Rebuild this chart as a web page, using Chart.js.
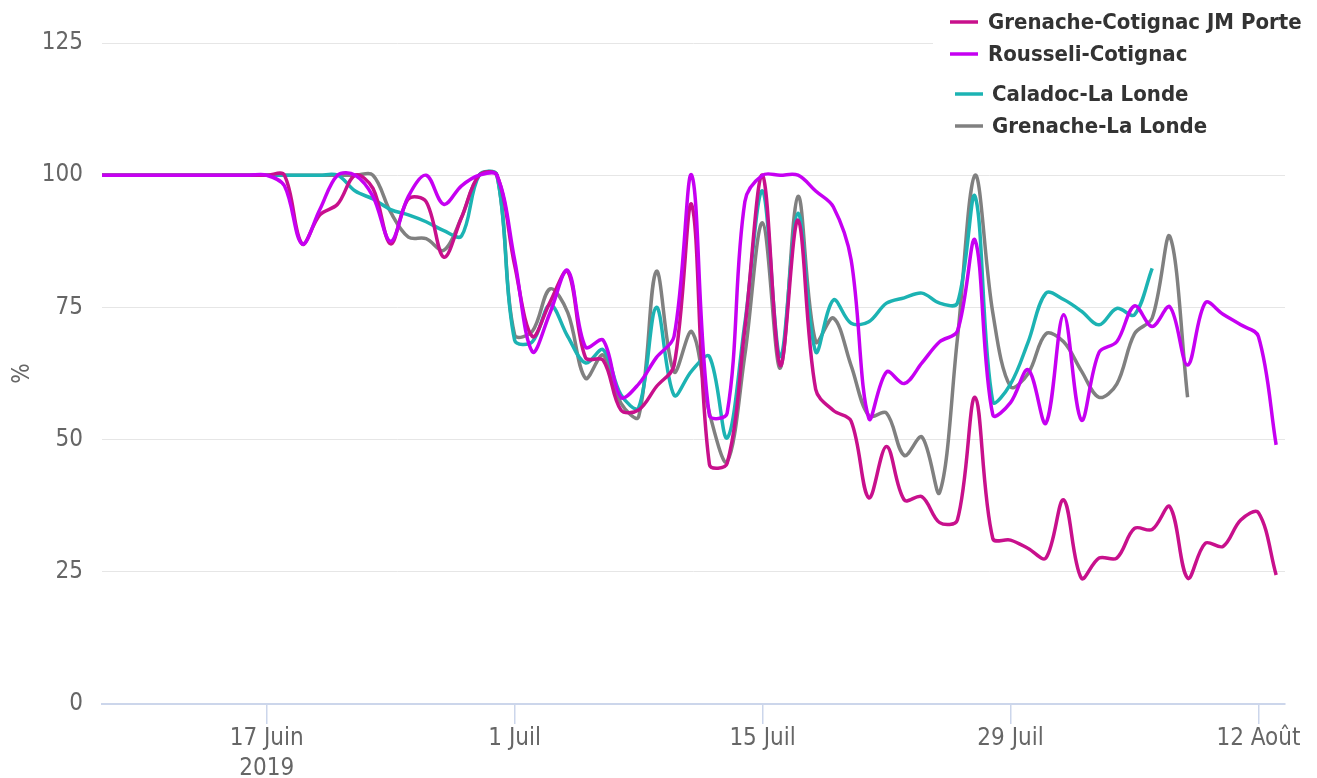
<!DOCTYPE html>
<html lang="fr">
<head>
<meta charset="UTF-8">
<title>Suivi hydrique 2019</title>
<script src="https://cdn.jsdelivr.net/npm/chart.js"></script>
<style>
  html, body { margin: 0; padding: 0; background: #fff; }
  #wrap { width: 1317px; height: 778px; }
</style>
</head>
<body>
<div id="wrap"><canvas id="chart"></canvas></div>
<script>
// jours comptés depuis le 17 juin 2019
const days = [-9.3, -8, -7, -6, -5, -4, -3, -2, -1, 0,
  1, 2, 3, 4, 5, 6, 7, 8, 9, 10,
  11, 12, 13, 14, 15, 16, 17, 18, 19, 20,
  21, 22, 23, 24, 25, 26, 27, 28, 29, 30,
  31, 32, 33, 34, 35, 36, 37, 38, 39, 40,
  41, 42, 43, 44, 45, 46, 47, 48, 49, 50,
  51, 52, 53, 54, 55, 56, 57];

const tickDays = [0, 14, 28, 42, 56];
const tickLabels = [['17 Juin', '2019'], '1 Juil', '15 Juil', '29 Juil', '12 Août'];
const yTicks = [0, 25, 50, 75, 100, 125];

const seriesNames = ['Grenache-Cotignac JM Porte', 'Rousseli-Cotignac', 'Caladoc-La Londe', 'Grenache-La Londe'];
const seriesColors = ['#c8108c', '#c600f2', '#1cb3b3', '#808080'];
// ordre de tracé : le gris dessous, le violet dessus
const drawOrder = [2, 1, 3, 4];

const grenacheCotignac = [100, 100, 100, 100, 100, 100, 100, 100, 100, 100,
  100, 87, 92.5, 94.5, 100, 97.5, 87, 95.5, 95, 84.5,
  92, 100, 100, 83, 69.5, 76, 81.8, 65.5, 65, 55.6,
  55.6, 60, 64, 94.4, 45.3, 45.5, 71, 100, 64, 91.5,
  59.5, 55.5, 53.5, 39, 48.7, 38.6, 39.2, 34.3, 34.8, 58,
  31.3, 31, 29.4, 27.6, 38.6, 23.8, 27.6, 27.6, 33.2, 33,
  37.3, 23.8, 30.4, 29.8, 34.8, 36.2, 24.4];

const rousseliCotignac = [100, 100, 100, 100, 100, 100, 100, 100, 100, 100,
  98, 87, 93.5, 100, 100, 96, 87.5, 96, 100, 94.5,
  98, 100, 100, 84, 66.6, 74, 82, 67.5, 68.8, 58,
  60.5, 65.5, 69.5, 100, 54.6, 55, 95, 100, 100, 100,
  97, 94, 84, 54, 62.8, 60.6, 64.5, 68.5, 70.5, 87.7,
  54.7, 57, 63.2, 53.1, 73.6, 53.7, 66.5, 68.5, 75.3, 71.4,
  75.1, 64.1, 75.9, 73.7, 71.7, 69.5, 49];

const caladocLaLonde = [100, 100, 100, 100, 100, 100, 100, 100, 100, 100,
  100, 100, 100, 100, 97, 95.5, 93.5, 92.5, 91.2, 89.5,
  88.5, 100, 100, 68.8, 68.5, 75.5, 69.5, 64.5, 67, 58.5,
  56, 75, 58.4, 63, 65.7, 50.3, 72, 97, 65.7, 92.8,
  66.6, 76.4, 72, 72.3, 75.8, 76.8, 77.7, 75.8, 75.8, 96,
  57.2, 60.5, 68.5, 77.7, 76.5, 74.3, 71.7, 74.8, 73.6, 82.4];

const grenacheLaLonde = [100, 100, 100, 100, 100, 100, 100, 100, 100, 100,
  100, 100, 100, 100, 100, 100, 93, 88.3, 88, 85.8,
  92, 100, 100, 69.8, 70.5, 78.5, 74, 61.6, 66, 56.9,
  54.3, 81.8, 62.8, 70.4, 55, 45.8, 66, 91, 63.5, 96,
  68.5, 73, 64, 54.5, 55, 47, 50.5, 40, 69, 100,
  74, 60, 62.5, 70, 68.5, 63, 58, 60.5, 70, 73,
  88.4, 58];

const allValues = [grenacheCotignac, rousseliCotignac, caladocLaLonde, grenacheLaLonde];

const datasets = allValues.map((vals, i) => ({
  label: seriesNames[i],
  data: vals.map((v, k) => ({ x: days[k], y: v })),
  borderColor: seriesColors[i],
  backgroundColor: seriesColors[i],
  borderWidth: 3.5,
  pointRadius: 0,
  tension: 0.35,
  fill: false,
  order: drawOrder[i]
}));

const tickFont = { family: '"DejaVu Sans Condensed", "DejaVu Sans", sans-serif', size: 24, lineHeight: 1.25 };

// légende dans le coin haut droit, sur fond blanc
const cornerLegend = {
  id: 'cornerLegend',
  afterDraw(chart) {
    const ctx = chart.ctx;
    const spots = [[950, 22, 988], [950, 54, 988], [955, 94, 992], [955, 126, 992]];
    ctx.save();
    ctx.fillStyle = '#ffffff';
    ctx.fillRect(933, 0, 384, 150);
    ctx.font = 'bold 22px "DejaVu Sans Condensed", "DejaVu Sans", sans-serif';
    ctx.textBaseline = 'middle';
    chart.data.datasets.forEach((ds, i) => {
      const s = spots[i];
      ctx.strokeStyle = ds.borderColor;
      ctx.lineWidth = 3.5;
      ctx.beginPath();
      ctx.moveTo(s[0], s[1]);
      ctx.lineTo(s[0] + 28, s[1]);
      ctx.stroke();
      ctx.fillStyle = '#333333';
      ctx.fillText(ds.label, s[2], s[1] + 1);
    });
    ctx.restore();
  }
};

new Chart(document.getElementById('chart'), {
  type: 'line',
  data: { datasets: datasets },
  plugins: [cornerLegend],
  options: {
    responsive: true,
    maintainAspectRatio: false,
    animation: false,
    layout: { padding: { left: 0, right: 32, top: 43, bottom: 0 } },
    plugins: {
      legend: { display: false },
      tooltip: { enabled: false }
    },
    scales: {
      x: {
        type: 'linear',
        min: -9.3,
        max: 57.5,
        afterBuildTicks: (scale) => { scale.ticks = tickDays.map(v => ({ value: v })); },
        afterFit: (scale) => { scale.height = 74; },
        ticks: {
          autoSkip: false,
          maxRotation: 0,
          padding: 0,
          color: '#666666',
          font: tickFont,
          callback: (value, index) => tickLabels[index]
        },
        grid: {
          drawOnChartArea: false,
          drawTicks: true,
          tickLength: 20,
          color: '#ccd6eb',
          lineWidth: 1.5
        },
        border: { display: true, color: '#ccd6eb', width: 2 }
      },
      y: {
        min: 0,
        max: 125,
        afterBuildTicks: (scale) => { scale.ticks = yTicks.map(v => ({ value: v })); },
        afterFit: (scale) => { scale.width = 102; },
        ticks: {
          padding: 19,
          color: '#666666',
          font: tickFont
        },
        grid: {
          color: '#e6e6e6',
          lineWidth: 1,
          drawTicks: false
        },
        border: { display: false },
        title: {
          display: true,
          text: '%',
          color: '#666666',
          font: { family: '"DejaVu Sans Condensed", "DejaVu Sans", sans-serif', size: 24 },
          padding: { top: 8, bottom: 4 }
        }
      }
    }
  }
});
</script>
</body>
</html>
